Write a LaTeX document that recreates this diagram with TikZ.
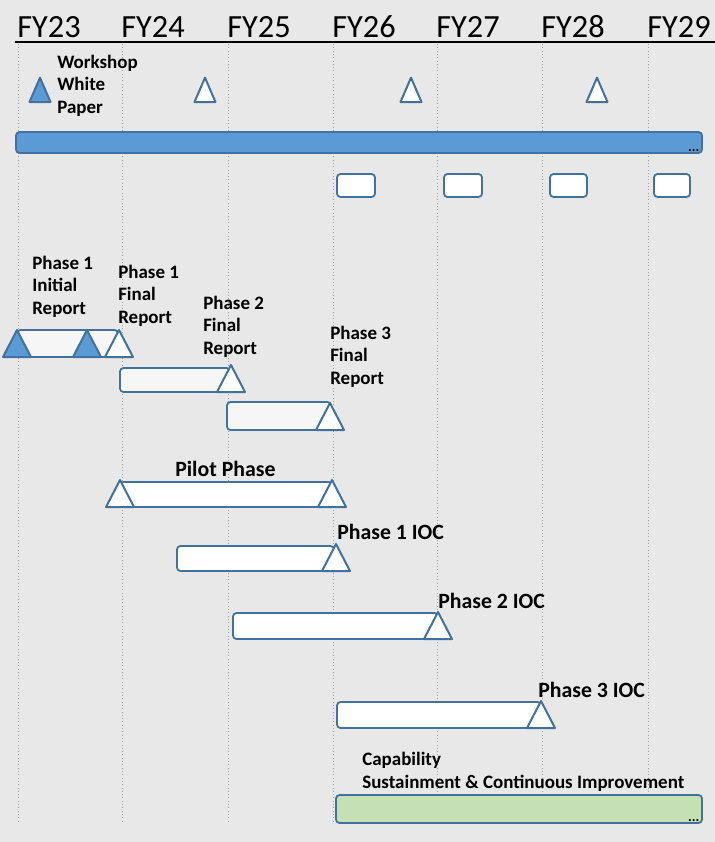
\documentclass[tikz,border=0pt]{standalone}
\usepackage{fontspec}
\setmainfont{Carlito}
\usetikzlibrary{positioning}
\usetikzlibrary{calc}

\begin{document}
\begin{tikzpicture}[x=0.025cm,y=-0.025cm]
  \definecolor{bggray}{RGB}{232,232,232}
  \definecolor{msblue}{RGB}{91,155,213}
  \definecolor{msline}{RGB}{65,113,156}
  \definecolor{capgreen}{RGB}{197,224,180}
  \tikzset{
    mstone/.pic={
      \draw[pic actions,line width=0.5mm,line join=round]
        (-14,0) -- (0,-27) -- (14,0) -- cycle;
    },
    bar/.style={draw=msline,line width=0.45mm,rounded corners=2.5pt},
    lbl/.style={anchor=base west,inner sep=0pt,align=left,
      font=\fontsize{13.5}{16}\selectfont\bfseries},
    biglbl/.style={anchor=base west,inner sep=0pt,
      font=\fontsize{15.5}{18}\selectfont\bfseries},
    more/.style={anchor=south east,inner sep=1pt,
      font=\fontsize{10}{10}\selectfont\bfseries},
  }
  \useasboundingbox[fill=bggray] (0,0) rectangle (715,842);
  % years and grid
  \foreach \x/\yr in {18/23,122/24,228/25,333/26,437/27,542/28,648/29} {
    \draw[gray!75,dotted,line width=0.35pt] (\x,44) -- (\x,822);
    \node[anchor=base west,inner sep=0pt,font=\fontsize{23}{26}\selectfont] (fy\yr) at (\x-1,37) {FY\yr};
  }
  \draw[line width=0.6mm] (15,42) -- (715,42);
  % workshops
  \pic[fill=msblue,draw=msline,xscale=0.75,yscale=0.9] at (40,102) {mstone};
  \foreach \x in {205,411,597} {
    \pic[fill=white,draw=msline,xscale=0.75,yscale=0.9] at (\x,102) {mstone};
  }
  \node[lbl] (workshop) at (57,113) {Workshop\\White\\Paper};
  \draw[bar,fill=msblue] (16,132) rectangle (702,153);
  \node[more] (topdots) at (701,153) {...};
  \foreach \x/\w in {337/375,444/482,550/587,654/690} {
    \draw[bar,fill=white] (\x,174) rectangle (\w,197);
  }
  % reports
  \draw[bar,fill=gray!7] (17,330) rectangle (118,357);
  \pic[fill=msblue,draw=msline] at (17,357) {mstone};
  \pic[fill=msblue,draw=msline] at (87,357) {mstone};
  \pic[fill=white,draw=msline] at (119,357) {mstone};
  \draw[bar,fill=gray!7] (120,368) rectangle (230,392);
  \pic[fill=white,draw=msline] at (231,392) {mstone};
  \draw[bar,fill=gray!7] (227,402) rectangle (331,430);
  \pic[fill=white,draw=msline] at (330,430) {mstone};
  \node[lbl] (p1init) at (32,314) {Phase 1\\Initial\\Report};
  \node[lbl] (p1final) at (118,323) {Phase 1\\Final\\Report};
  \node[lbl] (p2final) at (203,354) {Phase 2\\Final\\Report};
  \node[lbl] (p3final) at (330,384) {Phase 3\\Final\\Report};
  % pilot and IOC
  \draw[bar,fill=white] (120,482) rectangle (332,507);
  \pic[fill=white,draw=msline] at (120,507) {mstone};
  \pic[fill=white,draw=msline] at (332,507) {mstone};
  \node[biglbl] (pilot) at (175,476) {Pilot Phase};
  \draw[bar,fill=white] (177,546) rectangle (334,571);
  \pic[fill=white,draw=msline] at (336,571) {mstone};
  \node[biglbl] (ioc1) at (337,539) {Phase 1 IOC};
  \draw[bar,fill=white] (233,613) rectangle (438,639);
  \pic[fill=white,draw=msline] at (438,639) {mstone};
  \node[biglbl] (ioc2) at (438,608) {Phase 2 IOC};
  \draw[bar,fill=white] (337,702) rectangle (541,728);
  \pic[fill=white,draw=msline] at (541,728) {mstone};
  \node[biglbl] (ioc3) at (538,697) {Phase 3 IOC};
  % sustainment
  \draw[bar,fill=capgreen] (336,795) rectangle (702,823);
  \node[more] (capdots) at (701,823) {...};
  \node[lbl] (capab) at (362,788) {Capability\\Sustainment \& Continuous Improvement};
\end{tikzpicture}
\end{document}
